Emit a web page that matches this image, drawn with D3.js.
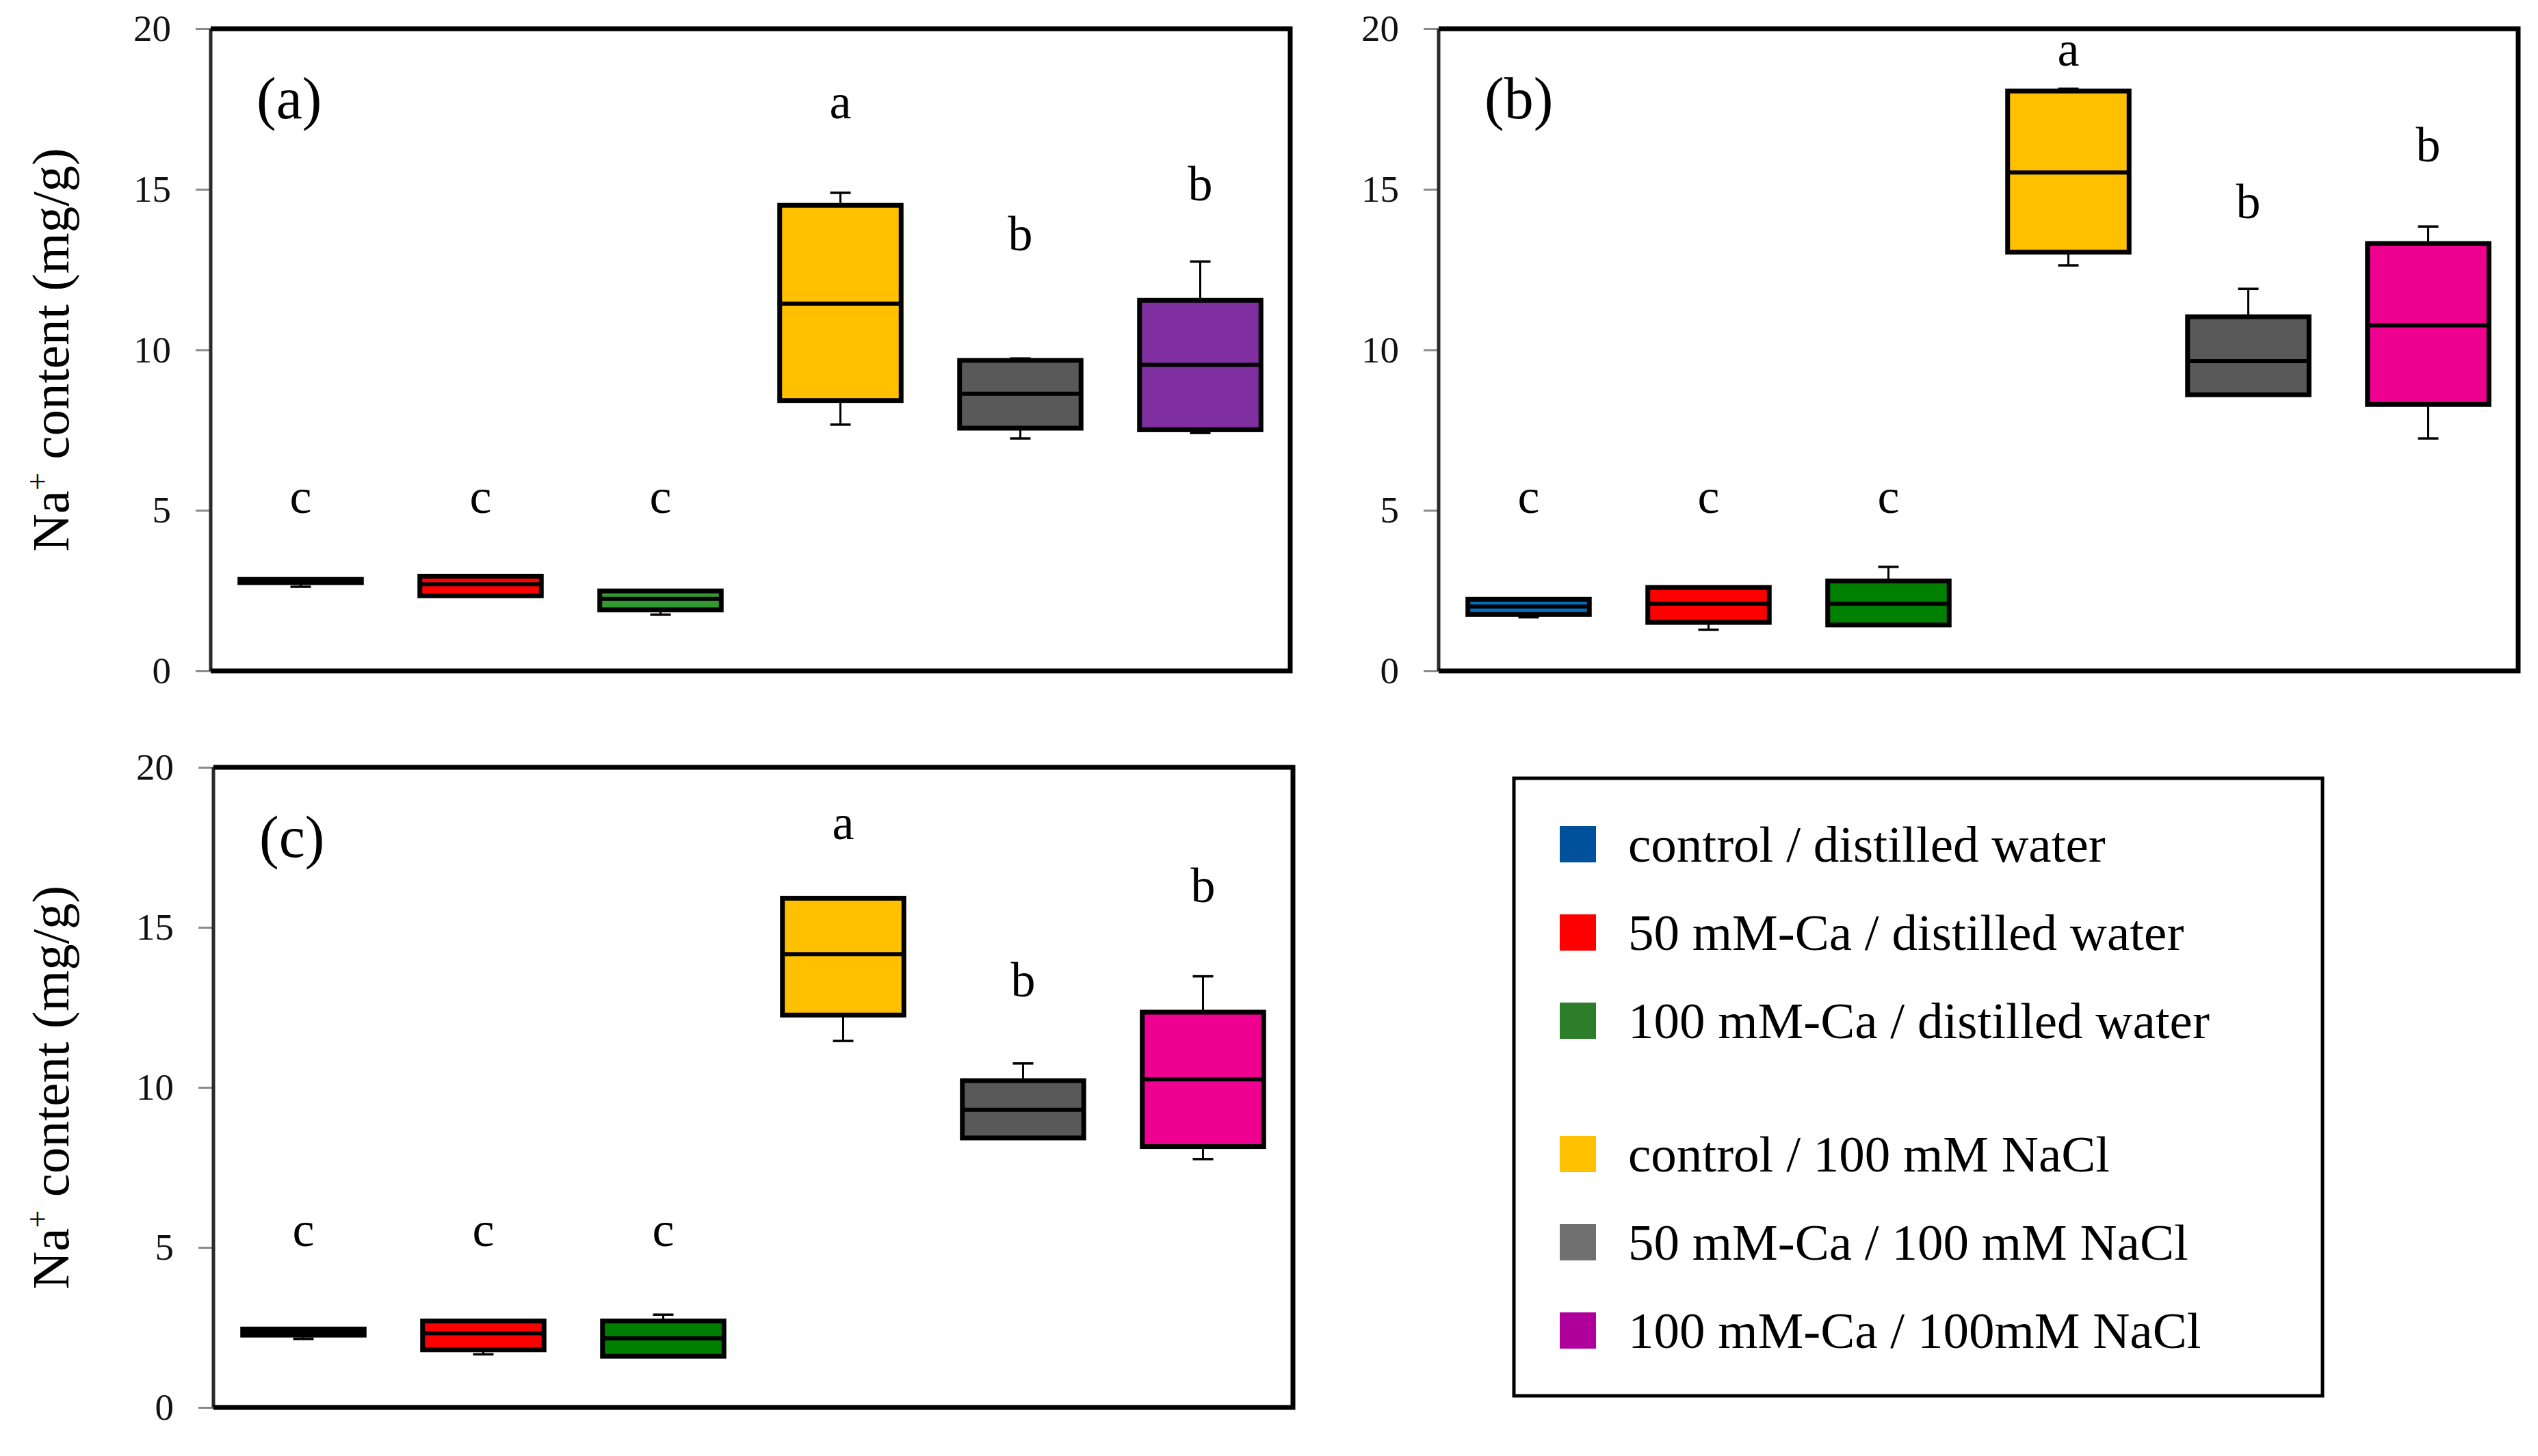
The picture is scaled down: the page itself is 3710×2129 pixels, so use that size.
<!DOCTYPE html>
<html>
<head>
<meta charset="utf-8">
<script src="https://cdn.jsdelivr.net/npm/d3@7"></script>
<style>
  html, body { margin: 0; padding: 0; background: #ffffff; }
  svg { display: block; }
</style>
</head>
<body>
<svg id="chart" width="3710" height="2129"></svg>
<script>
// ---------------- DATA ----------------
const categories = [
  "control / distilled water",
  "50 mM-Ca / distilled water",
  "100 mM-Ca / distilled water",
  "control / 100 mM NaCl",
  "50 mM-Ca / 100 mM NaCl",
  "100 mM-Ca / 100mM NaCl"
];
const yTicks = [0, 5, 10, 15, 20];
const panelNames = ["(a)", "(b)", "(c)"];

// each box: [low whisker, Q1, median, Q3, high whisker]
const boxesA = [
  [2.62, 2.75, 2.80, 2.85, 2.85],
  [2.34, 2.34, 2.70, 2.95, 2.95],
  [1.75, 1.90, 2.24, 2.49, 2.49],
  [7.67, 8.42, 11.44, 14.50, 14.89],
  [7.24, 7.56, 8.63, 9.67, 9.73],
  [7.41, 7.51, 9.53, 11.54, 12.75]
];
const boxesB = [
  [1.67, 1.76, 2.01, 2.23, 2.23],
  [1.28, 1.51, 2.09, 2.60, 2.60],
  [1.43, 1.43, 2.09, 2.80, 3.24],
  [12.63, 13.04, 15.52, 18.06, 18.13],
  [8.60, 8.60, 9.65, 11.03, 11.90],
  [7.24, 8.30, 10.76, 13.31, 13.84]
];
const boxesC = [
  [2.14, 2.26, 2.35, 2.45, 2.45],
  [1.66, 1.80, 2.32, 2.70, 2.70],
  [1.60, 1.60, 2.16, 2.70, 2.90],
  [11.45, 12.26, 14.16, 15.91, 15.91],
  [8.42, 8.42, 9.30, 10.21, 10.75],
  [7.76, 8.15, 10.25, 12.35, 13.47]
];

// significance letters and the value at which their baseline sits
const lettersA = ["c", "c", "c", "a", "b", "b"];
const letterPosA = [4.92, 4.92, 4.92, 17.2, 13.1, 14.65];
const lettersB = ["c", "c", "c", "a", "b", "b"];
const letterPosB = [4.92, 4.92, 4.92, 18.84, 14.1, 15.86];
const lettersC = ["c", "c", "c", "a", "b", "b"];
const letterPosC = [5.04, 5.04, 5.04, 17.76, 12.84, 15.78];

const fillsA = ["#0070c0", "#ff0000", "#339933", "#ffc000", "#595959", "#7f2fa0"];
const fillsBC = ["#0070c0", "#ff0000", "#008000", "#ffc000", "#595959", "#ee0090"];
const legendColors = ["#00519b", "#ff0000", "#2e7d2a", "#ffc000", "#707070", "#b0009c"];

// ---------------- LAYOUT ----------------
const FONT = "'Palatino Linotype', 'Book Antiqua', Palatino, 'Liberation Serif', 'Times New Roman', serif";
const panels = [
  { name: panelNames[0], boxes: boxesA, letters: lettersA, lpos: letterPosA, fills: fillsA,
    left: 308, right: 1886, top: 42, bottom: 981, title: true },
  { name: panelNames[1], boxes: boxesB, letters: lettersB, lpos: letterPosB, fills: fillsBC,
    left: 2103, right: 3681, top: 42, bottom: 981, title: false },
  { name: panelNames[2], boxes: boxesC, letters: lettersC, lpos: letterPosC, fills: fillsBC,
    left: 312, right: 1890, top: 1122, bottom: 2058, title: true }
];

const svg = d3.select("#chart");

panels.forEach(p => {
  const x = d3.scaleBand()
    .domain(categories)
    .range([p.left, p.right])
    .paddingInner(0.325)
    .paddingOuter(0.1625);
  const y = d3.scaleLinear().domain([0, 20]).range([p.bottom, p.top]);
  const g = svg.append("g");

  // y axis with ticks
  const ax = g.append("g")
    .attr("transform", `translate(${p.left},0)`)
    .call(d3.axisLeft(y).tickValues(yTicks).tickSize(22).tickPadding(36).tickFormat(d3.format("d")));
  ax.select(".domain").remove();
  ax.selectAll(".tick line").attr("stroke", "#8a8a8a").attr("stroke-width", 3);
  ax.selectAll(".tick text")
    .attr("font-family", FONT)
    .attr("font-size", 55)
    .attr("fill", "#111");

  // frame: left axis line + top/right/bottom border
  g.append("line")
    .attr("x1", p.left).attr("x2", p.left)
    .attr("y1", y(20)).attr("y2", y(0))
    .attr("stroke", "#2a2a2a").attr("stroke-width", 5);
  g.append("path")
    .attr("d", `M${p.left},${y(20)} H${p.right} V${y(0)} H${p.left}`)
    .attr("fill", "none")
    .attr("stroke", "#000")
    .attr("stroke-width", 7);

  // y-axis title
  if (p.title) {
    const t = g.append("text")
      .attr("transform", `translate(100,${(p.top + p.bottom) / 2}) rotate(-90)`)
      .attr("text-anchor", "middle")
      .attr("font-family", FONT)
      .attr("font-size", 77)
      .attr("fill", "#000");
    t.append("tspan").text("Na");
    t.append("tspan").text("+").attr("font-size", 46).attr("dy", -30);
    t.append("tspan").text(" content (mg/g)").attr("dy", 30);
  }

  // panel label
  g.append("text")
    .attr("x", p.left + 67)
    .attr("y", p.top + 131)
    .attr("font-family", FONT)
    .attr("font-size", 86)
    .attr("fill", "#000")
    .text(p.name);

  const bw = x.bandwidth();
  const capW = 30;

  // whiskers
  p.boxes.forEach((b, i) => {
    const cx = x(categories[i]) + bw / 2;
    const [lo, q1, med, q3, hi] = b;
    if (hi > q3 + 0.01) {
      g.append("line").attr("x1", cx).attr("x2", cx).attr("y1", y(q3)).attr("y2", y(hi))
        .attr("stroke", "#000").attr("stroke-width", 3);
      g.append("line").attr("x1", cx - capW / 2).attr("x2", cx + capW / 2).attr("y1", y(hi)).attr("y2", y(hi))
        .attr("stroke", "#000").attr("stroke-width", 3.5);
    }
    if (lo < q1 - 0.01) {
      g.append("line").attr("x1", cx).attr("x2", cx).attr("y1", y(q1)).attr("y2", y(lo))
        .attr("stroke", "#000").attr("stroke-width", 3);
      g.append("line").attr("x1", cx - capW / 2).attr("x2", cx + capW / 2).attr("y1", y(lo)).attr("y2", y(lo))
        .attr("stroke", "#000").attr("stroke-width", 3.5);
    }
  });

  // boxes
  p.boxes.forEach((b, i) => {
    const x0 = x(categories[i]);
    const [lo, q1, med, q3, hi] = b;
    g.append("rect")
      .attr("x", x0).attr("width", bw)
      .attr("y", y(q3)).attr("height", y(q1) - y(q3))
      .attr("fill", p.fills[i])
      .attr("stroke", "#000").attr("stroke-width", 7);
    g.append("line")
      .attr("x1", x0).attr("x2", x0 + bw)
      .attr("y1", y(med)).attr("y2", y(med))
      .attr("stroke", "#000").attr("stroke-width", 6);
  });

  // significance letters
  p.letters.forEach((l, i) => {
    g.append("text")
      .attr("x", x(categories[i]) + bw / 2)
      .attr("y", y(p.lpos[i]))
      .attr("text-anchor", "middle")
      .attr("font-family", FONT)
      .attr("font-size", 72)
      .attr("fill", "#000")
      .text(l);
  });
});

// ---------------- LEGEND ----------------
const leg = svg.append("g");
leg.append("rect")
  .attr("x", 2213).attr("y", 1138)
  .attr("width", 3395 - 2213).attr("height", 2041 - 1138)
  .attr("fill", "#fff").attr("stroke", "#000").attr("stroke-width", 5);

const rowY = i => 1208 + (i < 3 ? i * 129 : 453 + (i - 3) * 129);
categories.forEach((c, i) => {
  leg.append("rect")
    .attr("x", 2280).attr("y", rowY(i))
    .attr("width", 53).attr("height", 53)
    .attr("fill", legendColors[i]);
  leg.append("text")
    .attr("x", 2380).attr("y", rowY(i) + 52)
    .attr("font-family", FONT)
    .attr("font-size", 75)
    .attr("fill", "#000")
    .text(c);
});
</script>
</body>
</html>
